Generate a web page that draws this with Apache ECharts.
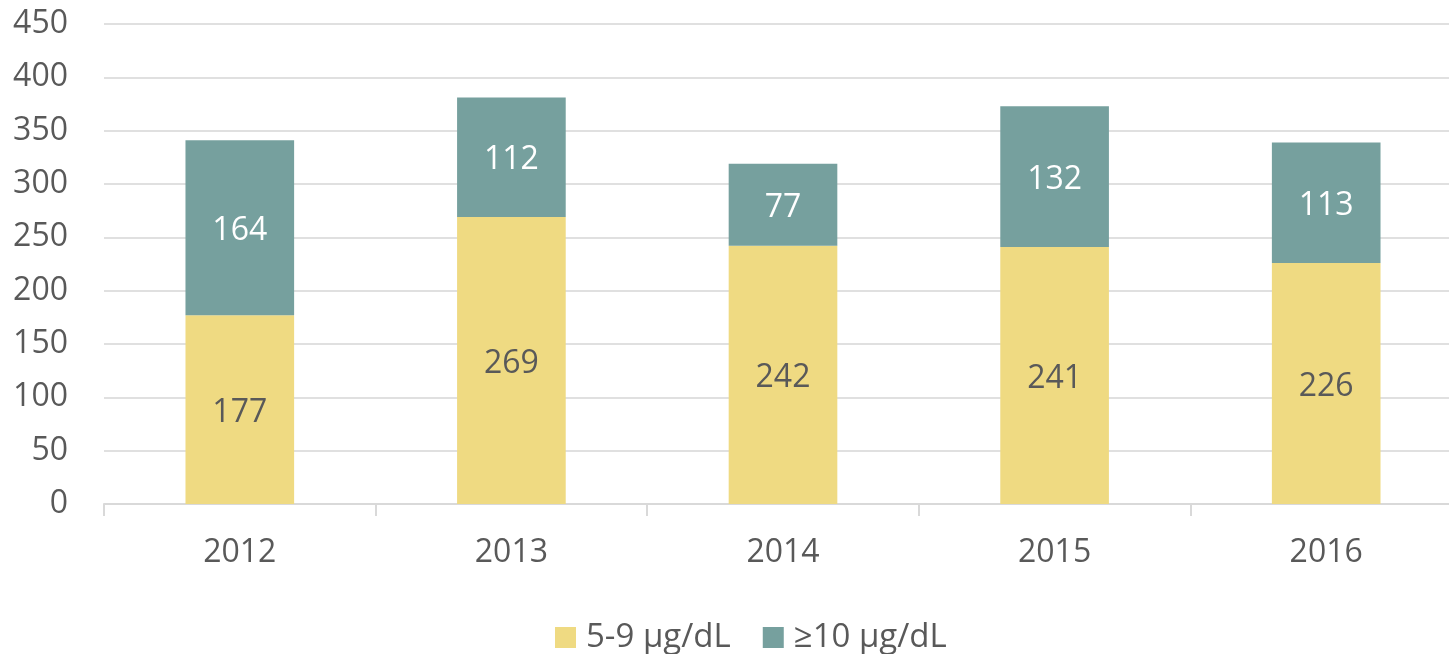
<!DOCTYPE html>
<html>
<head>
<meta charset="utf-8">
<script src="https://cdn.jsdelivr.net/npm/echarts@6/dist/echarts.min.js"></script>
<style>
  html, body { margin: 0; padding: 0; background: #fff; overflow: hidden; }
  /* a bit wider than the window: the plot area runs past the right edge, like the original */
  #chart { width: 1462px; height: 654px; }
</style>
</head>
<body>
<div id="chart"></div>
<script>
const years = ["2012", "2013", "2014", "2015", "2016"]
const low = [177, 269, 242, 241, 226]
const high = [164, 112, 77, 132, 113]
const seriesNames = ["5-9 µg/dL", "≥10 µg/dL"]

const FONT = "Open Sans"
const TEXT = "#595959"

const chart = echarts.init(document.getElementById("chart"))

chart.setOption({
  animation: false,
  textStyle: { fontFamily: FONT },
  grid: { left: 104, right: 0, top: 24, bottom: 150, containLabel: false },
  legend: {
    top: 621,
    left: 555,
    padding: 0,
    itemWidth: 21,
    itemHeight: 21,
    itemGap: 32,
    icon: "rect",
    textStyle: { fontFamily: FONT, fontSize: 33, color: TEXT, padding: [0, 0, 0, 5] },
    data: seriesNames,
  },
  xAxis: {
    type: "category",
    data: years,
    axisLine: { lineStyle: { color: "#d9d9d9", width: 2 } },
    axisTick: { show: true, length: 12, lineStyle: { color: "#d9d9d9", width: 2 } },
    axisLabel: { color: TEXT, fontSize: 32, margin: 33, fontFamily: FONT },
  },
  yAxis: {
    type: "value",
    min: 0,
    max: 450,
    interval: 50,
    axisLine: { show: false },
    axisTick: { show: false },
    axisLabel: { color: TEXT, fontSize: 32, margin: 36, fontFamily: FONT },
    splitLine: { lineStyle: { color: "#e0e0e0", width: 2 } },
  },
  series: [
    {
      name: seriesNames[0],
      type: "bar",
      stack: "total",
      data: low,
      barWidth: "40%",
      itemStyle: { color: "#efda82" },
      label: { show: true, position: "inside", offset: [0, 3], color: TEXT, fontSize: 32, fontFamily: FONT },
    },
    {
      name: seriesNames[1],
      type: "bar",
      stack: "total",
      data: high,
      barWidth: "40%",
      itemStyle: { color: "#76a09e" },
      label: { show: true, position: "inside", offset: [0, 3], color: "#ffffff", fontSize: 32, fontFamily: FONT },
    },
  ],
})
</script>
</body>
</html>
